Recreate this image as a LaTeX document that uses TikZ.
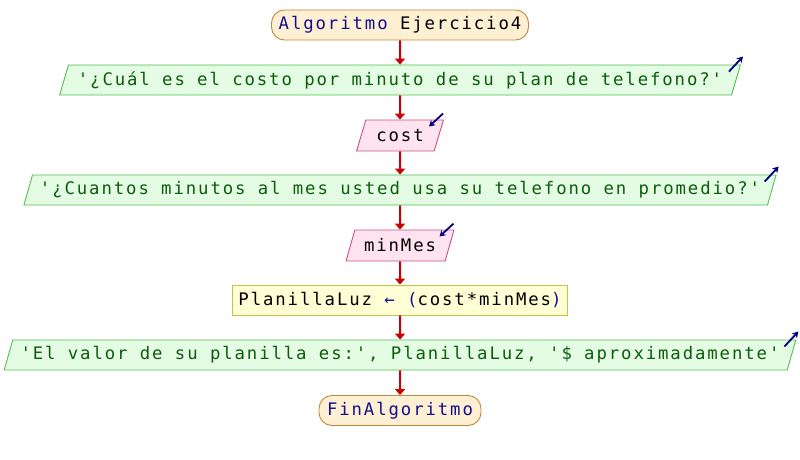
\documentclass[tikz,border=0pt]{standalone}
\usepackage{fontspec}
\usetikzlibrary{shapes.geometric,arrows.meta,calc}
\newfontfamily\codefont[LetterSpace=11]{DejaVu Sans Mono}
\definecolor{termfill}{HTML}{FFF0D4}
\definecolor{termdraw}{HTML}{C0883A}
\definecolor{outfill}{HTML}{E4FCE4}
\definecolor{outdraw}{HTML}{52C052}
\definecolor{outtext}{HTML}{0C5C0C}
\definecolor{infill}{HTML}{FFE4F0}
\definecolor{indraw}{HTML}{C8508A}
\definecolor{procfill}{HTML}{FFFFD6}
\definecolor{procdraw}{HTML}{C8C048}
\definecolor{flowred}{HTML}{CC0000}
\definecolor{kwblue}{HTML}{10108C}
\definecolor{iconblue}{HTML}{000080}
\tikzset{
  every node/.style={font=\codefont\fontsize{17.3}{20}\selectfont, inner sep=2pt},
  terminal/.style={rectangle, rounded corners=13pt, draw=termdraw, fill=termfill,
    line width=0.9pt, minimum height=30pt},
  outbox/.style={trapezium, trapezium left angle=68, trapezium right angle=112,
    trapezium stretches=true, draw=outdraw, fill=outfill, line width=0.9pt,
    minimum height=30pt, text=outtext},
  inbox/.style={trapezium, trapezium left angle=67, trapezium right angle=113,
    trapezium stretches=true, draw=indraw, fill=infill, line width=0.9pt,
    minimum height=31pt, text=black},
  procbox/.style={rectangle, draw=procdraw, fill=procfill, line width=0.9pt,
    minimum height=30pt},
  flow/.style={draw=flowred, line width=2pt, -{Triangle[width=10pt,length=6pt]}},
  icon/.style={draw=iconblue, line width=1.8pt, -{Stealth[length=6pt,width=7pt]}}
}
\begin{document}
\begin{tikzpicture}[x=1pt,y=-1pt]
\useasboundingbox (0,0) rectangle (800,460);

% flowchart blocks
\node[terminal, minimum width=257pt] (start) at (400,25)
  {\textcolor{kwblue}{Algoritmo} Ejercicio4};
\node[outbox, minimum width=684pt] (o1) at (400,80)
  {'¿Cuál es el costo por minuto de su plan de telefono?'};
\node[inbox, minimum width=87pt] (i1) at (400,135.5) {cost};
\node[outbox, minimum width=756pt] (o2) at (400,190)
  {'¿Cuantos minutos al mes usted usa su telefono en promedio?'};
\node[inbox, minimum width=108pt] (i2) at (400,245.5) {minMes};
\node[procbox, minimum width=335pt] (p) at (400,300)
  {PlanillaLuz \textcolor{kwblue}{←} \textcolor{kwblue}{(}cost*minMes\textcolor{kwblue}{)}};
\node[outbox, minimum width=792pt] (o3) at (400,355)
  {'El valor de su planilla es:', PlanillaLuz, '\$ aproximadamente'};
\node[terminal, minimum width=162pt] (end) at (400,410.5)
  {\textcolor{kwblue}{FinAlgoritmo}};

% control flow
\draw[flow] (start.south) -- (o1.north);
\draw[flow] (o1.south) -- (i1.north);
\draw[flow] (i1.south) -- (o2.north);
\draw[flow] (o2.south) -- (i2.north);
\draw[flow] (i2.south) -- (p.north);
\draw[flow] (p.south) -- (o3.north);
\draw[flow] (o3.south) -- (end.north);

% output / input markers
\foreach \n in {o1,o2,o3}
  \draw[icon] ($(\n.top right corner)+(-12,7)$) -- ($(\n.top right corner)+(2,-8)$);
\foreach \n in {i1,i2}
  \draw[icon] ($(\n.top right corner)+(-1,-6)$) -- ($(\n.top right corner)+(-15,7)$);
\end{tikzpicture}
\end{document}
